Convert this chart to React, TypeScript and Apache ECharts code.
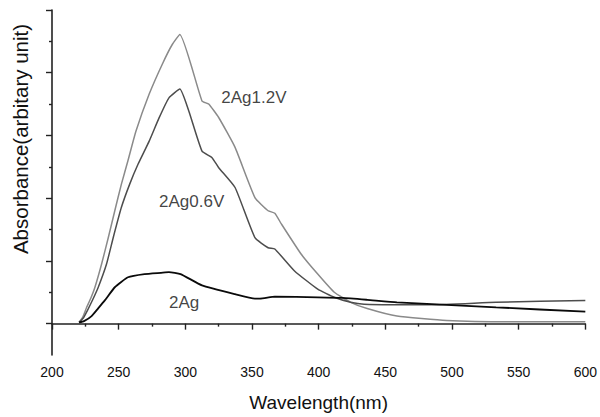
import React, { useEffect, useRef } from "react";
import * as echarts from "echarts";

// Wavelength (nm) and absorbance (arbitrary unit)
const wl12 = [220.3, 223, 226, 229, 232.2, 237.2, 242.2, 247.1, 252, 257, 263, 272.9, 282.8, 290.2, 295.9, 312.5, 317.5, 324.9, 337.3, 352.2, 362.1, 367.1, 372, 386.8, 399.3, 411.7, 424, 436.4, 458.7, 495.9, 548, 600];
const ab12 = [0.02, 0.1, 0.26, 0.4, 0.58, 0.95, 1.37, 1.8, 2.22, 2.6, 3.07, 3.66, 4.14, 4.45, 4.61, 3.55, 3.5, 3.29, 2.81, 2.01, 1.8, 1.76, 1.59, 1.11, 0.79, 0.5, 0.34, 0.24, 0.12, 0.05, 0.03, 0.03];

const wl06 = [220.3, 223.5, 226.8, 230.5, 234.7, 240.9, 245.9, 252, 258.2, 264.5, 272.9, 280.3, 287.7, 295.9, 302.6, 312.5, 319.9, 324.9, 337.3, 352.2, 362.1, 367.1, 381.9, 399.3, 411.7, 424, 434, 483.5, 533.1, 600];
const ab06 = [0.02, 0.09, 0.22, 0.38, 0.58, 0.95, 1.37, 1.85, 2.22, 2.54, 2.91, 3.28, 3.6, 3.74, 3.39, 2.75, 2.65, 2.49, 2.17, 1.37, 1.21, 1.19, 0.84, 0.55, 0.42, 0.34, 0.31, 0.3, 0.34, 0.37];

const wl00 = [220.3, 224, 229.7, 234.5, 239.6, 247.1, 257, 269.4, 281.8, 287.7, 296.4, 312.5, 337.3, 352.2, 356, 367.1, 399.3, 418, 436.4, 458.7, 496, 533.1, 600];
const ab00 = [0.02, 0.04, 0.12, 0.24, 0.37, 0.58, 0.74, 0.79, 0.81, 0.82, 0.79, 0.61, 0.47, 0.4, 0.4, 0.43, 0.42, 0.41, 0.38, 0.34, 0.3, 0.26, 0.19];

const seriesNames = ["2Ag1.2V", "2Ag0.6V", "2Ag"];
// label anchor positions (data coords, left edge / vertical middle of text)
const labelPos: [number, number][] = [[327, 3.6], [280.3, 1.94], [287.7, 0.33]];

const xTicks = { min: 200, max: 600, interval: 50 };
const yMajor = [0, 1, 2, 3, 4, 5];
const yMinor = [0.5, 1.5, 2.5, 3.5, 4.5];

const FONT = "'Liberation Sans', Arial, Helvetica, sans-serif";

function pairs(x: number[], y: number[]) {
  return x.map((v, i) => [v, y[i]]);
}

export default function App() {
  const ref = useRef<HTMLDivElement>(null);
  useEffect(() => {
    if (!ref.current) return;
    const chart = echarts.init(ref.current, undefined, { renderer: "svg" });
    const lineCommon = {
      type: "line" as const,
      showSymbol: false,
      smooth: 0.15,
      xAxisIndex: 0,
      yAxisIndex: 0,
    };
    chart.setOption({
      animation: false,
      backgroundColor: "#ffffff",
      textStyle: { fontFamily: FONT },
      grid: { left: 52, right: 10, top: 10, bottom: 62, containLabel: false },
      xAxis: {
        type: "value",
        min: xTicks.min,
        max: xTicks.max,
        interval: xTicks.interval,
        name: "Wavelength(nm)",
        nameLocation: "middle",
        nameGap: 38,
        nameTextStyle: { fontSize: 19, color: "#111", fontFamily: FONT },
        axisLine: { show: true, lineStyle: { color: "#222", width: 1.6 } },
        axisTick: { show: true, length: 6, lineStyle: { color: "#222", width: 1.4 } },
        minorTick: { show: true, splitNumber: 2, length: 3, lineStyle: { color: "#222", width: 1.4 } },
        axisLabel: { fontSize: 14, color: "#111", margin: 10, fontFamily: FONT },
        splitLine: { show: false },
        minorSplitLine: { show: false },
      },
      yAxis: [
        {
          type: "value",
          min: -0.5,
          max: 5,
          position: "left",
          axisLine: { show: true, onZero: false, lineStyle: { color: "#222", width: 1.6 } },
          axisTick: { show: true, length: 6, customValues: yMajor, lineStyle: { color: "#222", width: 1.4 } },
          axisLabel: { show: false },
          splitLine: { show: false },
        },
        {
          type: "value",
          min: -0.5,
          max: 5,
          position: "left",
          offset: 0,
          axisLine: { show: false },
          axisTick: { show: true, length: 3, customValues: yMinor, lineStyle: { color: "#222", width: 1.4 } },
          axisLabel: { show: false },
          splitLine: { show: false },
        },
      ],
      graphic: [
        {
          type: "text",
          x: 20,
          y: 139,
          rotation: Math.PI / 2,
          style: {
            text: "Absorbance(arbitary unit)",
            fontSize: 20.5,
            fontFamily: FONT,
            fill: "#111",
            textAlign: "center",
            textVerticalAlign: "middle",
          },
        },
      ],
      series: [
        { ...lineCommon, name: seriesNames[0], data: pairs(wl12, ab12), lineStyle: { color: "#8a8a8a", width: 1.5 }, z: 2 },
        { ...lineCommon, name: seriesNames[1], data: pairs(wl06, ab06), lineStyle: { color: "#4d4d4d", width: 1.5 }, z: 3 },
        { ...lineCommon, name: seriesNames[2], data: pairs(wl00, ab00), lineStyle: { color: "#0a0a0a", width: 1.8 }, z: 4 },
        {
          type: "scatter",
          symbolSize: 0,
          silent: true,
          data: labelPos.map((p, i) => ({ value: p, name: seriesNames[i] })),
          label: {
            show: true,
            position: "right",
            distance: 0,
            formatter: (p: any) => p.name,
            fontSize: 17,
            color: "#111",
            fontFamily: FONT,
          },
          z: 5,
        },
      ],
    });
    return () => chart.dispose();
  }, []);
  return (
    <div
      ref={ref}
      style={{ position: "fixed", left: 0, top: 0, width: 600, height: 417, background: "#fff" }}
    />
  );
}
